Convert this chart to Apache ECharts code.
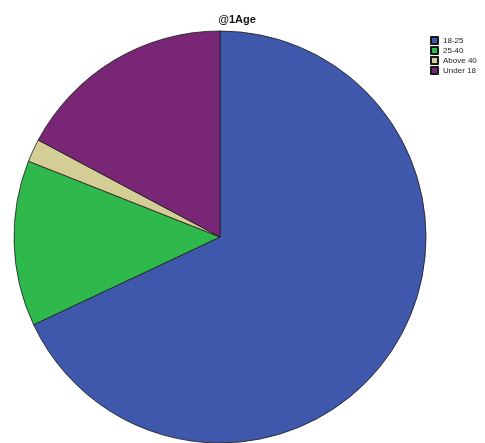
<!DOCTYPE html>
<html><head><meta charset="utf-8">
<script src="https://cdn.jsdelivr.net/npm/echarts@6/dist/echarts.min.js"></script>
<style>html,body{margin:0;padding:0;background:#fff}#c{width:485px;height:443px}</style>
</head><body><div id="c"></div>
<script>
const categories = ['18-25', '25-40', 'Above 40', 'Under 18'];
const values = [68, 13, 1.8, 17.2];
const colors = ['#3f58ab', '#2fb84b', '#d5cd96', '#792677'];

const chart = echarts.init(document.getElementById('c'));
chart.setOption({
  animation: false,
  title: {
    text: '@1Age', left: 232, top: 9, textAlign: 'center',
    textStyle: { fontFamily: 'Liberation Sans, Arial', fontSize: 11, fontWeight: 'bold', color: '#111' }
  },
  legend: {
    orient: 'vertical', left: 425, top: 31,
    itemWidth: 7, itemHeight: 7, itemGap: 1,
    itemTextGap: 3,
    icon: 'rect',
    textStyle: { fontFamily: 'Liberation Sans, Arial', fontSize: 8, lineHeight: 7, color: '#222' },
    data: categories
  },
  series: [{
    type: 'pie',
    center: [220, 237],
    radius: 206,
    startAngle: 90,
    clockwise: true,
    label: { show: false },
    labelLine: { show: false },
    emphasis: { disabled: true },
    itemStyle: { borderColor: '#1a1a1a', borderWidth: 0.8 },
    data: categories.map((c, i) => ({ name: c, value: values[i], itemStyle: { color: colors[i] } }))
  }]
});
</script></body></html>
